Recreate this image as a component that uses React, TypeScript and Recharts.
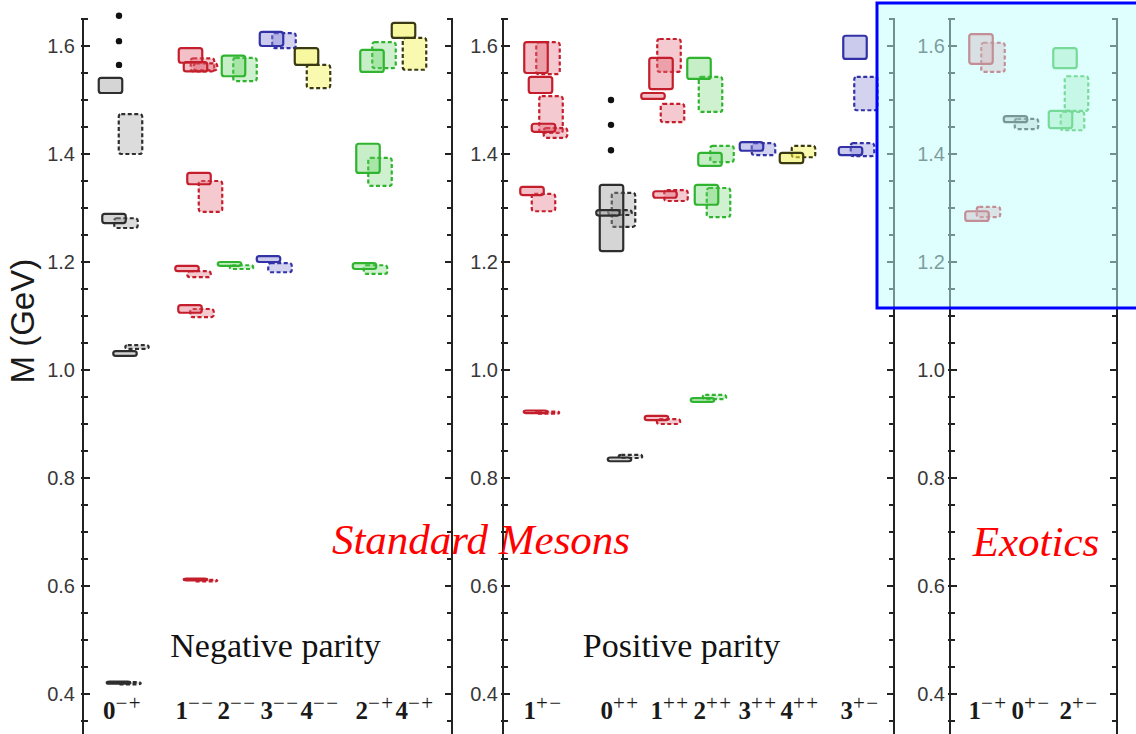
import React from 'react';
import { ComposedChart, XAxis, YAxis, ReferenceArea, ReferenceDot } from 'recharts';

// ---------- data ----------
const yTicks = [0.3, 0.35, 0.4, 0.45, 0.5, 0.55, 0.6, 0.65, 0.7, 0.75, 0.8, 0.85, 0.9, 0.95, 1.0, 1.05, 1.1, 1.15, 1.2, 1.25, 1.3, 1.35, 1.4, 1.45, 1.5, 1.55, 1.6, 1.65];

// categories: J^{PC} and column position
const negCategories = [
  { jpc: '0-+', x: 3.95 }, { jpc: '1--', x: 11.2 }, { jpc: '2--', x: 15.4 }, { jpc: '3--', x: 19.7 },
  { jpc: '4--', x: 23.7 }, { jpc: '2-+', x: 29.2 }, { jpc: '4-+', x: 33.2 },
];
const posCategories = [
  { jpc: '1+-', x: 4.0 }, { jpc: '0++', x: 11.7 }, { jpc: '1++', x: 16.7 }, { jpc: '2++', x: 21.0 },
  { jpc: '3++', x: 25.5 }, { jpc: '4++', x: 29.7 }, { jpc: '3+-', x: 35.7 },
];
const exoCategories = [
  { jpc: '1-+', x: 3.8 }, { jpc: '0+-', x: 8.1 }, { jpc: '2+-', x: 12.9 },
];

// boxes: [JPC, column x, lower mass, upper mass, ensemble]
const negBoxes: [string, number, number, number, string][] = [
  ['0-+', 2.75, 1.513, 1.541, 'A'], ['0-+', 4.75, 1.400, 1.474, 'B'],
  ['0-+', 3.1, 1.272, 1.289, 'A'], ['0-+', 4.3, 1.263, 1.281, 'B'],
  ['0-+', 4.2, 1.026, 1.035, 'A'], ['0-+', 5.4, 1.039, 1.046, 'B'],
  ['0-+', 3.55, 0.419, 0.423, 'A'], ['0-+', 4.6, 0.418, 0.422, 'B'],
  ['1--', 10.75, 1.569, 1.596, 'A'], ['1--', 11.25, 1.553, 1.570, 'A'],
  ['1--', 11.95, 1.553, 1.577, 'B'], ['1--', 12.25, 1.555, 1.568, 'B'],
  ['1--', 11.6, 1.344, 1.365, 'A'], ['1--', 12.75, 1.293, 1.350, 'B'],
  ['1--', 10.4, 1.183, 1.193, 'A'], ['1--', 11.6, 1.172, 1.183, 'B'],
  ['1--', 10.7, 1.106, 1.120, 'A'], ['1--', 11.9, 1.098, 1.113, 'B'],
  ['1--', 11.25, 0.6105, 0.6135, 'A'], ['1--', 12.25, 0.6085, 0.6115, 'B'],
  ['2--', 15.05, 1.544, 1.582, 'A'], ['2--', 16.2, 1.535, 1.578, 'B'],
  ['2--', 14.65, 1.193, 1.200, 'A'], ['2--', 15.85, 1.187, 1.194, 'B'],
  ['3--', 18.85, 1.600, 1.626, 'A'], ['3--', 20.1, 1.596, 1.624, 'B'],
  ['3--', 18.55, 1.200, 1.211, 'A'], ['3--', 19.7, 1.181, 1.198, 'B'],
  ['4--', 22.35, 1.565, 1.596, 'A'], ['4--', 23.55, 1.522, 1.565, 'B'],
  ['2-+', 28.9, 1.552, 1.593, 'A'], ['2-+', 30.1, 1.559, 1.607, 'B'],
  ['2-+', 28.5, 1.365, 1.419, 'A'], ['2-+', 29.7, 1.341, 1.393, 'B'],
  ['2-+', 28.15, 1.187, 1.198, 'A'], ['2-+', 29.25, 1.178, 1.194, 'B'],
  ['4-+', 32.05, 1.615, 1.643, 'A'], ['4-+', 33.15, 1.556, 1.615, 'B'],
];
const posBoxes: [string, number, number, number, string][] = [
  ['1+-', 3.3, 1.550, 1.607, 'A'], ['1+-', 4.5, 1.548, 1.607, 'B'],
  ['1+-', 3.75, 1.513, 1.543, 'A'], ['1+-', 4.8, 1.439, 1.507, 'B'],
  ['1+-', 4.05, 1.441, 1.456, 'A'], ['1+-', 5.25, 1.430, 1.448, 'B'],
  ['1+-', 2.9, 1.324, 1.339, 'A'], ['1+-', 4.05, 1.294, 1.326, 'B'],
  ['1+-', 3.25, 0.920, 0.925, 'A'], ['1+-', 4.45, 0.919, 0.923, 'B'],
  ['0++', 10.85, 1.220, 1.343, 'A'], ['0++', 12.05, 1.265, 1.328, 'B'],
  ['0++', 10.5, 1.286, 1.296, 'A'], ['0++', 11.7, 1.287, 1.296, 'B'],
  ['0++', 11.65, 0.831, 0.838, 'A'], ['0++', 12.75, 0.837, 0.843, 'B'],
  ['1++', 15.8, 1.520, 1.578, 'A'], ['1++', 16.6, 1.552, 1.613, 'B'],
  ['1++', 15.0, 1.502, 1.513, 'A'], ['1++', 16.95, 1.459, 1.493, 'B'],
  ['1++', 16.2, 1.319, 1.331, 'A'], ['1++', 17.3, 1.313, 1.333, 'B'],
  ['1++', 15.35, 0.907, 0.915, 'A'], ['1++', 16.55, 0.900, 0.909, 'B'],
  ['2++', 19.6, 1.539, 1.578, 'A'], ['2++', 20.75, 1.478, 1.543, 'B'],
  ['2++', 20.7, 1.378, 1.402, 'A'], ['2++', 21.9, 1.385, 1.415, 'B'],
  ['2++', 20.35, 1.306, 1.343, 'A'], ['2++', 21.55, 1.283, 1.337, 'B'],
  ['2++', 19.95, 0.941, 0.948, 'A'], ['2++', 21.15, 0.946, 0.954, 'B'],
  ['3++', 24.85, 1.406, 1.422, 'A'], ['3++', 26.05, 1.398, 1.420, 'B'],
  ['4++', 28.85, 1.383, 1.402, 'A'], ['4++', 30.05, 1.394, 1.415, 'B'],
  ['3+-', 35.2, 1.576, 1.619, 'A'], ['3+-', 36.3, 1.481, 1.543, 'B'],
  ['3+-', 34.75, 1.398, 1.413, 'A'], ['3+-', 35.95, 1.396, 1.420, 'B'],
];
const exoBoxes: [string, number, number, number, string][] = [
  ['1-+', 3.1, 1.567, 1.622, 'A'], ['1-+', 4.3, 1.552, 1.606, 'B'],
  ['1-+', 2.7, 1.276, 1.294, 'A'], ['1-+', 3.85, 1.283, 1.302, 'B'],
  ['0+-', 6.55, 1.459, 1.470, 'A'], ['0+-', 7.65, 1.446, 1.465, 'B'],
  ['2+-', 11.5, 1.559, 1.596, 'A'], ['2+-', 12.65, 1.480, 1.544, 'B'],
  ['2+-', 11.05, 1.448, 1.480, 'A'], ['2+-', 12.25, 1.444, 1.478, 'B'],
];

// higher excitations indicated by dots
const negDots = [{ x: 3.6, y: 1.565 }, { x: 3.6, y: 1.609 }, { x: 3.6, y: 1.656 }];
const posDots = [{ x: 10.8, y: 1.407 }, { x: 10.8, y: 1.454 }, { x: 10.8, y: 1.500 }];

// ---------- styles ----------
const BOX_W = 2.35;
const Y_DOMAIN: [number, number] = [0.3, 1.65];
const jStyles: Record<string, { stroke: string; fill: string; op: number }> = {
  '0': { stroke: '#2e2e2e', fill: '#9c9c9c', op: 0.42 },
  '1': { stroke: '#c41e2c', fill: '#e06878', op: 0.42 },
  '2': { stroke: '#30b430', fill: '#5fd05f', op: 0.35 },
  '3': { stroke: '#3232a6', fill: '#8888d8', op: 0.44 },
  '4': { stroke: '#3a3a12', fill: '#f2f24a', op: 0.52 },
};

const fmtSup = (s: string) => s.replace(/-/g, '\u2212');

function LeftTick(props: any, gap: number) {
  const { x, y, payload } = props;
  const v = payload.value;
  const major = Math.round(v * 100) % 20 === 0 && v > 0.35;
  return (
    <g>
      <line x1={x - 2} x2={x + (major ? 7 : 5)} y1={y} y2={y} stroke="#222" strokeWidth={2} />
      {major && (
        <text x={x - gap} y={y} dy="0.36em" textAnchor="end" fontFamily="Liberation Sans, Arial, sans-serif" fontSize={20} fill="#383838">
          {v.toFixed(1)}
        </text>
      )}
    </g>
  );
}
function RightTick(props: any) {
  const { x, y, payload } = props;
  const v = payload.value;
  const major = Math.round(v * 100) % 20 === 0 && v > 0.35;
  return <line x1={x + 1} x2={x - (major ? 7 : 5)} y1={y} y2={y} stroke="#222" strokeWidth={2} />;
}
function CatTick(props: any, cats: { jpc: string; x: number }[]) {
  const { x, y, payload } = props;
  const cat = cats.find((c) => Math.abs(c.x - payload.value) < 1e-6);
  if (!cat) return <g />;
  return (
    <text x={x} y={y - 29} textAnchor="middle" fontFamily="Liberation Serif, serif" fontWeight="bold" fill="#1a1a1a">
      <tspan fontSize={25}>{cat.jpc[0]}</tspan>
      <tspan fontSize={21} fontWeight="normal" dy={-9} letterSpacing={1.5}>{fmtSup(cat.jpc.slice(1))}</tspan>
    </text>
  );
}

type PanelProps = {
  left: number;
  axisW: number;
  xMax: number;
  cats: { jpc: string; x: number }[];
  boxes: [string, number, number, number, string][];
  dots?: { x: number; y: number }[];
  gap: number;
  yLabel?: boolean;
};

function Panel({ left, axisW, xMax, cats, boxes, dots, gap, yLabel }: PanelProps) {
  const width = axisW + xMax * 10 + 1 + 7;
  const ordered = [...boxes.filter((b) => b[4] === 'B'), ...boxes.filter((b) => b[4] === 'A')];
  return (
    <div style={{ position: 'absolute', left, top: 0 }}>
      <ComposedChart width={width} height={778} margin={{ top: 19, right: 7, bottom: 0, left: 0 }}>
        <XAxis
          type="number"
          dataKey="x"
          domain={[0, xMax]}
          ticks={cats.map((c) => c.x)}
          interval={0}
          height={30}
          axisLine={false}
          tickLine={false}
          tickSize={0}
          tickMargin={0}
          allowDataOverflow
          tick={(p: any) => CatTick(p, cats)}
        />
        <YAxis
          yAxisId="l"
          type="number"
          dataKey="y"
          domain={Y_DOMAIN}
          ticks={yTicks}
          interval={0}
          width={axisW}
          allowDataOverflow
          axisLine={{ stroke: '#222', strokeWidth: 2 }}
          tickLine={false}
          tickSize={0}
          tickMargin={0}
          tick={(p: any) => LeftTick(p, gap)}
          label={
            yLabel
              ? {
                  value: 'M (GeV)',
                  angle: -90,
                  position: 'insideLeft',
                  offset: 22,
                  fontSize: 33,
                  fill: '#1a1a1a',
                  fontFamily: 'Liberation Sans, Arial, sans-serif',
                }
              : undefined
          }
        />
        <YAxis
          yAxisId="r"
          orientation="right"
          type="number"
          domain={Y_DOMAIN}
          ticks={yTicks}
          interval={0}
          width={1}
          allowDataOverflow
          axisLine={{ stroke: '#222', strokeWidth: 2 }}
          tickLine={false}
          tickSize={0}
          tickMargin={0}
          tick={(p: any) => RightTick(p)}
        />
        {ordered.map((b, i) => {
          const st = jStyles[b[0][0]];
          const dashed = b[4] === 'B';
          return (
            <ReferenceArea
              key={i}
              yAxisId="l"
              x1={b[1] - BOX_W / 2}
              x2={b[1] + BOX_W / 2}
              y1={b[2]}
              y2={b[3]}
              shape={(p: any) => (
                <rect
                  x={p.x}
                  y={p.y}
                  width={p.width}
                  height={Math.max(p.height, 0.8)}
                  rx={2.5}
                  ry={2.5}
                  fill={st.fill}
                  fillOpacity={dashed ? st.op * 0.85 : st.op}
                  stroke={st.stroke}
                  strokeWidth={2.2}
                  strokeDasharray={dashed ? '4 2.5' : undefined}
                />
              )}
            />
          );
        })}
        {(dots || []).map((d, i) => (
          <ReferenceDot
            key={'d' + i}
            yAxisId="l"
            x={d.x}
            y={d.y}
            r={3.2}
            fill="#111"
            stroke="none"
            ifOverflow="visible"
          />
        ))}
      </ComposedChart>
    </div>
  );
}

export default function App() {
  return (
    <div style={{ position: 'absolute', left: 0, top: 0, width: 1136, height: 734, overflow: 'hidden', background: '#fff' }}>
      <Panel left={0} axisW={83} xMax={36.9} cats={negCategories} boxes={negBoxes} dots={negDots} gap={8} yLabel />
      <Panel left={443} axisW={60} xMax={39.1} cats={posCategories} boxes={posBoxes} dots={posDots} gap={5} />
      <Panel left={890} axisW={60} xMax={16.7} cats={exoCategories} boxes={exoBoxes} gap={5} />
      <svg width={1136} height={734} style={{ position: 'absolute', left: 0, top: 0, pointerEvents: 'none' }}>
        <text x={275.5} y={657} textAnchor="middle" fontFamily="Liberation Serif, serif" fontSize={34} fill="#111">
          Negative parity
        </text>
        <text x={681.5} y={657} textAnchor="middle" fontFamily="Liberation Serif, serif" fontSize={34} fill="#111">
          Positive parity
        </text>
        <text x={481} y={554} textAnchor="middle" fontFamily="Liberation Serif, serif" fontStyle="italic" fontSize={43} fill="#ff0000">
          Standard Mesons
        </text>
        <text x={1036} y={556} textAnchor="middle" fontFamily="Liberation Serif, serif" fontStyle="italic" fontSize={43} fill="#ff0000">
          Exotics
        </text>
        <rect x={877} y={3} width={300} height={305} fill="rgba(192,255,255,0.5)" stroke="#0000ff" strokeWidth={3} />
      </svg>
    </div>
  );
}
